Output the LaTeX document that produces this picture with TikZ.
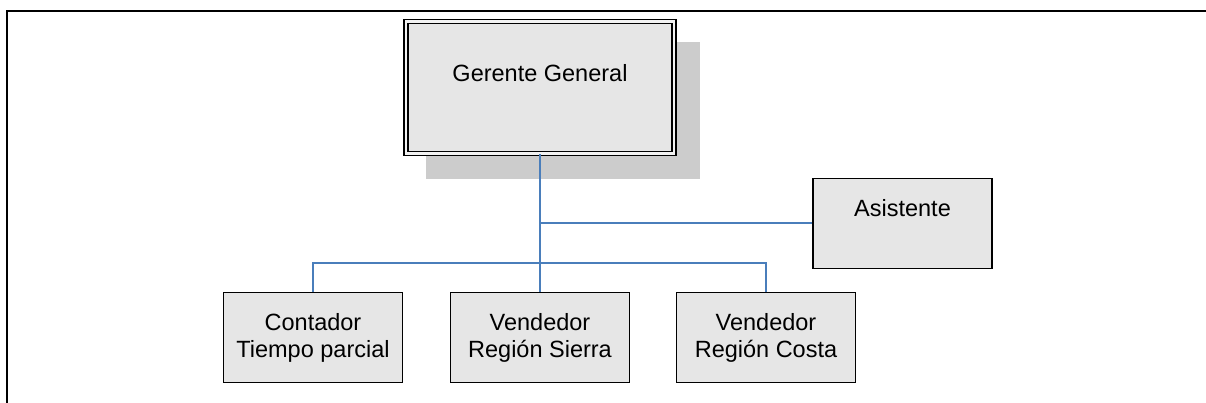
\documentclass[tikz,border=0pt]{standalone}
\usepackage{fontspec}
\setmainfont{Liberation Sans}
\usetikzlibrary{calc, shadows}
\definecolor{tinta}{HTML}{000000}
\definecolor{caja}{HTML}{E6E6E6}
\definecolor{hueco}{HTML}{F2F2F2}
\definecolor{sombra}{HTML}{CCCCCC}
\definecolor{enlace}{HTML}{4A7EBB}
\tikzset{
  font=\fontsize{23.5}{27}\selectfont,
  %
  puesto/.style={
    draw=tinta, line width=1.5pt, fill=caja, inner sep=0pt, align=center,
    text=tinta, minimum width=179pt, minimum height=90pt,
  },
  jefe/.style={
    puesto, double=hueco, double distance=2.5pt,
    minimum width=268pt, minimum height=132pt,
    drop shadow={shadow xshift=23pt, shadow yshift=-23pt,
                 fill=sombra, draw=sombra, line width=5.5pt, opacity=1},
  },
  %
  rotulo/.style={inner sep=0pt, text=tinta},
  linea/.style={draw=enlace, line width=2pt},
  marco/.style={draw=tinta, line width=2pt},
}
\begin{document}
\begin{tikzpicture}[x=1pt, y=-1pt]
\useasboundingbox (0,0) rectangle (1206,403);

% ------------------------------------------------------------------ marco
\draw[marco] (7,403) -- (7,11) -- (1206,11);

% ---------------------------------------------------------------- puestos
\node[jefe] (gerente) at (540,87.5) {};
\node[rotulo] (gerente-txt) at ($(gerente.center)+(0,-14.5)$) {Gerente General};

\node[puesto] (asistente) at (902.5,223.5) {};
\node[rotulo] (asistente-txt) at ($(asistente.center)+(0,-15.5)$) {Asistente};

\node[puesto] (contador) at (313,337.5) {Contador\\Tiempo parcial};
\node[puesto] (sierra) at (540,337.5) {Vendedor\\Región Sierra};
\node[puesto] (costa) at (766,337.5) {Vendedor\\Región Costa};

% ---------------------------------------------------------------- enlaces
\coordinate (bus) at (540,263);
\draw[linea] (gerente.south) -- (sierra.north);
\draw[linea] (gerente.south |- asistente.west) -- (asistente.west);
\draw[linea] (contador.north) |- (bus) -| (costa.north);

\end{tikzpicture}
\end{document}
